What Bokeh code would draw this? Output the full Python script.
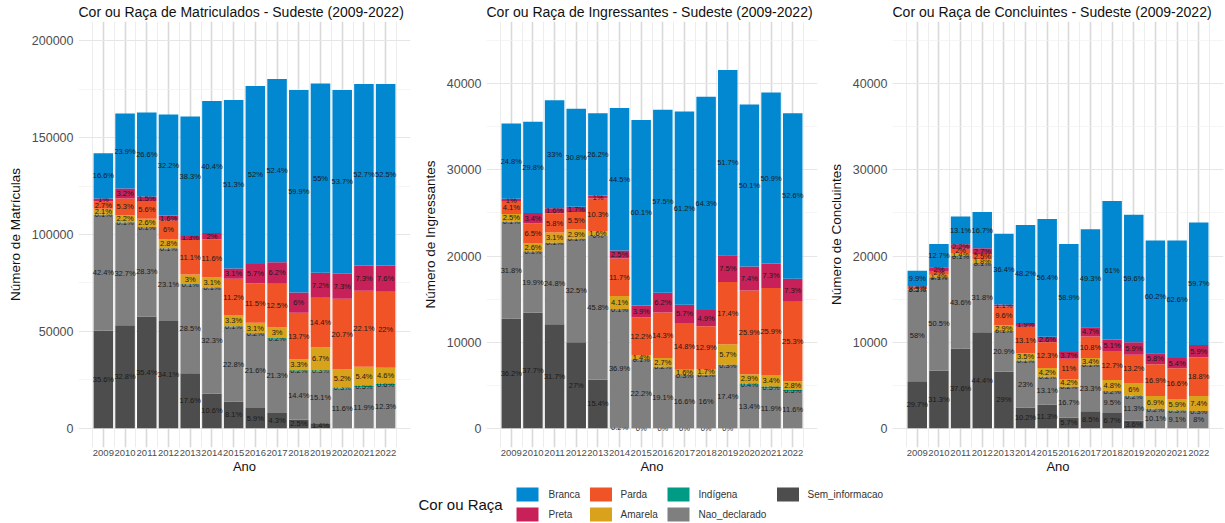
import numpy as np
from bokeh.plotting import figure
from bokeh.models import ColumnDataSource, Range1d, FixedTicker, BasicTickFormatter
from bokeh.layouts import row, column
from bokeh.embed import file_html
from bokeh.resources import INLINE
from bokeh.core.properties import value

years = list(range(2009, 2023))

# stacking order bottom -> top
categories = ["Sem_informacao", "Nao_declarado", "Indígena", "Amarela", "Parda", "Preta", "Branca"]
colors = ["#4D4D4D", "#7F7F7F", "#009B84", "#D9A21B", "#F05426", "#C8215A", "#0288D1"]

# ---- Matriculados (totals and % labels) ----
mat_total = [142000, 162500, 163000, 162000, 161000, 169000, 169500, 176700, 180300, 174600, 178000, 174600, 177700, 177700]
mat_sem = [35.6, 32.8, 35.4, 34.1, 17.6, 10.6, 8.1, 5.9, 4.3, 2.5, 1.4, None, None, None]
mat_nao = [42.4, 32.7, 28.3, 23.1, 28.5, 32.3, 22.8, 21.6, 21.3, 14.4, 15.1, 11.6, 11.9, 12.3]
mat_ind = [0.1, 0.1, 0.1, 0.1, 0.1, 0.1, 0.1, 0.2, 0.2, 0.2, 0.3, 0.3, 0.5, 0.6]
mat_ama = [2.1, 2.2, 2.6, 2.8, 3.0, 3.1, 3.3, 3.1, 3.0, 3.3, 6.7, 5.2, 5.4, 4.6]
mat_par = [2.7, 5.3, 5.6, 6.0, 11.1, 11.6, 11.2, 11.5, 12.5, 13.7, 14.4, 20.7, 22.1, 22.0]
mat_pre = [1.0, 3.2, 1.5, 1.6, 1.3, 2.0, 3.1, 5.7, 6.2, 6.0, 7.2, 7.3, 7.3, 7.6]
mat_bra = [16.6, 23.9, 26.6, 32.2, 38.3, 40.4, 51.3, 52.0, 52.4, 59.9, 55.0, 53.7, 52.7, 52.5]

# ---- Ingressantes ----
ing_total = [35400, 35600, 38100, 37100, 36600, 37200, 35800, 37000, 36800, 38500, 41600, 37600, 39000, 36600]
ing_sem = [36.2, 37.7, 31.7, 27.0, 15.4, 0.2, 0, 0, 0, 0, 0, None, None, None]
ing_nao = [31.8, 19.9, 24.8, 32.5, 45.8, 36.9, 22.2, 19.1, 16.6, 16.0, 17.4, 13.4, 11.9, 11.6]
ing_ind = [0.1, 0.1, 0.1, 0.1, 0.0, 0.1, 0.1, 0.2, 0.3, 0.1, 0.3, 0.4, 0.5, 0.5]
ing_ama = [2.5, 2.6, 3.1, 2.9, 1.6, 4.1, 1.4, 2.7, 1.6, 1.7, 5.7, 2.9, 3.4, 2.8]
ing_par = [4.1, 6.5, 5.8, 5.5, 10.3, 11.7, 12.2, 14.3, 14.8, 12.9, 17.4, 25.9, 25.9, 25.3]
ing_pre = [1.0, 3.4, 1.6, 1.7, 1.0, 2.5, 3.9, 6.2, 5.7, 4.9, 7.5, 7.4, 7.3, 7.3]
ing_bra = [24.8, 29.8, 33.0, 30.8, 26.2, 44.5, 60.1, 57.5, 61.2, 64.3, 51.7, 50.1, 50.9, 52.6]

# ---- Concluintes ----
con_total = [18300, 21400, 24600, 25100, 22600, 23600, 24300, 21400, 23100, 26400, 24800, 21800, 21800, 23900]
con_sem = [29.7, 31.3, 37.6, 44.4, 29.0, 10.2, 11.3, 5.7, 8.5, 6.7, 3.6, None, None, None]
con_nao = [58.0, 50.5, 43.6, 31.8, 20.9, 23.0, 13.1, 16.7, 23.3, 9.5, 11.3, 10.1, 9.1, 8.0]
con_ind = [0.1, 0.1, 0.1, 0.1, 0.1, 0.1, 0.2, 0.2, 0.1, 0.2, 0.2, 0.2, 0.3, 0.3]
con_ama = [0.5, 1.4, 1.4, 1.8, 2.9, 3.5, 4.2, 4.2, 3.4, 4.8, 6.0, 6.9, 5.9, 7.4]
con_par = [1.4, 2.0, 2.0, 2.5, 9.6, 13.1, 12.3, 11.0, 10.8, 12.7, 13.2, 16.9, 16.6, 18.8]
con_pre = [0.4, 2.0, 2.2, 2.7, 1.1, 1.9, 2.6, 3.7, 4.7, 5.1, 5.9, 5.8, 5.4, 5.9]
con_bra = [9.9, 12.7, 13.1, 16.7, 36.4, 48.2, 56.4, 58.9, 49.3, 61.0, 59.6, 60.2, 62.6, 59.7]

FONT = "Liberation Sans"
PANEL_H = 476


def fmt(v):
    return format(round(v, 1), "g") + "%"


def make_panel(title, ylabel, totals, pct_lists, ymax, ystep, width, left, right):
    p = figure(width=width, height=PANEL_H, output_backend="svg", toolbar_location=None,
               x_range=Range1d(2007.855, 2023.145),
               y_range=Range1d(-0.05 * ymax, 1.05 * ymax),
               min_border_left=left, min_border_right=right,
               min_border_top=0, min_border_bottom=28)
    p.title.text = title
    p.title.text_font = FONT
    p.title.text_font_size = "14px"
    p.title.text_font_style = "normal"
    p.title.text_color = "#111111"
    p.title.standoff = 3
    p.outline_line_color = None
    p.background_fill_color = "white"
    p.border_fill_color = "white"

    n = len(years)
    sums = [sum(pl[i] for pl in pct_lists if pl[i] is not None) for i in range(n)]
    base = np.zeros(n)
    for cat, col, pl in zip(categories, colors, pct_lists):
        xs, bots, tops, mids, labs = [], [], [], [], []
        for i, v in enumerate(pl):
            if v is None:
                continue
            h = v / sums[i] * totals[i]
            xs.append(years[i])
            bots.append(base[i])
            tops.append(base[i] + h)
            mids.append(base[i] + h / 2)
            labs.append(fmt(v))
            base[i] += h
        src = ColumnDataSource(dict(x=xs, bottom=bots, top=tops, mid=mids, label=labs))
        p.vbar(x="x", width=0.9, bottom="bottom", top="top", source=src,
               fill_color=col, line_color=None)
        p.text(x="x", y="mid", text="label", source=src, text_align="center",
               text_baseline="middle", text_font_size="7.5px", text_color="#1a1a1a",
               text_font=value(FONT))

    p.xaxis.ticker = FixedTicker(ticks=years, minor_ticks=[y + 0.5 for y in range(2008, 2023)])
    p.yaxis.ticker = FixedTicker(ticks=list(range(0, ymax + 1, ystep)),
                                 minor_ticks=list(range(ystep // 2, int(1.05 * ymax), ystep)))
    p.yaxis.formatter = BasicTickFormatter(use_scientific=False)

    for ax in (p.xaxis[0], p.yaxis[0]):
        ax.axis_line_color = None
        ax.major_tick_line_color = None
        ax.minor_tick_line_color = None
        ax.major_tick_out = 0
        ax.major_tick_in = 0
        ax.minor_tick_out = 0
        ax.minor_tick_in = 0
        ax.major_label_text_font = FONT
        ax.major_label_text_color = "#4D4D4D"
        ax.axis_label_text_font = FONT
        ax.axis_label_text_font_style = "normal"
        ax.axis_label_text_color = "#111111"
    p.xaxis.axis_label = "Ano"
    p.xaxis.axis_label_text_font_size = "13px"
    p.xaxis.major_label_text_font_size = "9.5px"
    p.xaxis.major_label_standoff = 2
    p.xaxis.axis_label_standoff = 0
    p.yaxis.axis_label = ylabel
    p.yaxis.axis_label_text_font_size = "13.5px"
    p.yaxis.major_label_text_font_size = "12.5px"
    p.yaxis.major_label_standoff = 5
    p.yaxis.axis_label_standoff = 6

    p.xgrid.grid_line_color = "#D9D9D9"
    p.xgrid.grid_line_width = 1.6
    p.xgrid.minor_grid_line_color = "#E8E8E8"
    p.xgrid.minor_grid_line_width = 0.8
    p.ygrid.grid_line_color = "#E6E6E6"
    p.ygrid.grid_line_width = 1.2
    p.ygrid.minor_grid_line_color = "#F0F0F0"
    p.ygrid.minor_grid_line_width = 0.7
    return p


def lists(sem, nao, ind, ama, par, pre, bra):
    return [sem, nao, ind, ama, par, pre, bra]


p1 = make_panel("Cor ou Raça de Matriculados - Sudeste (2009-2022)", "Número de Matrículas",
                mat_total, lists(mat_sem, mat_nao, mat_ind, mat_ama, mat_par, mat_pre, mat_bra),
                200000, 50000, 412, 78, 2)
p2 = make_panel("Cor ou Raça de Ingressantes - Sudeste (2009-2022)", "Número de Ingressantes",
                ing_total, lists(ing_sem, ing_nao, ing_ind, ing_ama, ing_par, ing_pre, ing_bra),
                45000, 10000, 408, 74, 3)
p3 = make_panel("Cor ou Raça de Concluintes - Sudeste (2009-2022)", "Número de Concluintes",
                con_total, lists(con_sem, con_nao, con_ind, con_ama, con_par, con_pre, con_bra),
                45000, 10000, 405, 72, 2)

# ---- legend ----
legend_order = ["Branca", "Preta", "Parda", "Amarela", "Indígena", "Nao_declarado", "Sem_informacao"]
LW, LH = 1225, 47
lg = figure(width=LW, height=LH, output_backend="svg", toolbar_location=None,
            x_range=Range1d(0, LW), y_range=Range1d(0, LH),
            x_axis_location=None, y_axis_location=None,
            min_border_left=0, min_border_right=0, min_border_top=0, min_border_bottom=0)
lg.outline_line_color = None
lg.xgrid.visible = False
lg.ygrid.visible = False
col_key_x = [527, 600.5, 678, 787.5]
col_lab_x = [548, 620, 698, 807]
row_y = [29, 9]
kx, ky, kc, tx, ty, tl = [], [], [], [], [], []
for idx, name in enumerate(legend_order):
    c, r = idx // 2, idx % 2
    kx.append(col_key_x[c]); ky.append(row_y[r]); kc.append(colors[categories.index(name)])
    tx.append(col_lab_x[c]); ty.append(row_y[r]); tl.append(name)
lg.rect(x=kx, y=ky, width=22, height=14, fill_color=kc, line_color=None)
lg.text(x=tx, y=ty, text=tl, text_baseline="middle", text_font_size="10px",
        text_color="#333333", text_font=value(FONT))
lg.text(x=[418], y=[19], text=["Cor ou Raça"], text_baseline="middle", text_font_size="15px",
        text_color="#111111", text_font=value(FONT))

layout = column(row(p1, p2, p3), lg)
open("out.html", "w").write(file_html(layout, INLINE))
